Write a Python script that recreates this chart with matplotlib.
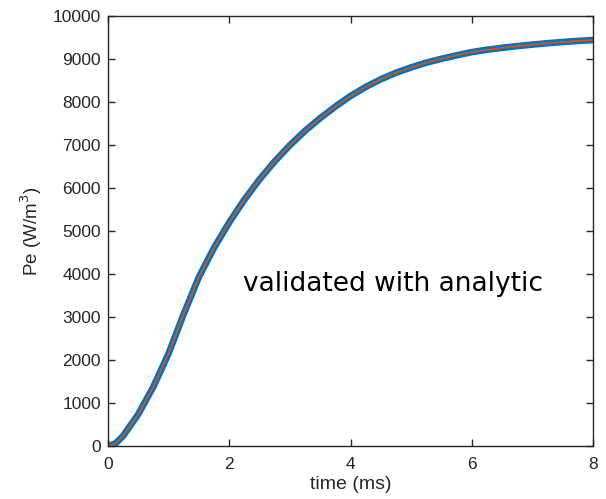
import matplotlib.pyplot as plt
import matplotlib

matplotlib.rcParams['font.family'] = 'Liberation Sans'

# time (ms) and power density (W/m^3)
t_ms = [0.0, 0.125, 0.25, 0.5, 0.75, 1.0, 1.25, 1.5, 1.75, 2.0, 2.25, 2.5, 2.75, 3.0,
        3.25, 3.5, 3.75, 4.0, 4.25, 4.5, 4.75, 5.0, 5.25, 5.5, 5.75, 6.0, 6.25, 6.5,
        6.75, 7.0, 7.25, 7.5, 7.75, 8.0]
pe_numeric = [0, 60, 235, 740, 1380, 2150, 3070, 3930, 4610, 5200, 5730, 6200, 6620,
              6995, 7330, 7625, 7895, 8140, 8350, 8530, 8680, 8805, 8915, 9005, 9085,
              9160, 9215, 9260, 9300, 9335, 9367, 9395, 9420, 9440]
pe_analytic = list(pe_numeric)

xticks = [0, 2, 4, 6, 8]
yticks = list(range(0, 10001, 1000))

fig = plt.figure(figsize=(6.06, 4.99), dpi=100)
ax = fig.add_axes([0.178, 0.106, 0.801, 0.862])

ax.plot(t_ms, pe_numeric, color='#0072BD', lw=4.8, solid_capstyle='round',
        solid_joinstyle='round')
ax.plot(t_ms, pe_analytic, color='#D95319', lw=1.3, solid_joinstyle='round')

ax.set_xlim(0, 8)
ax.set_ylim(0, 10000)
ax.set_xticks(xticks)
ax.set_yticks(yticks)
ax.tick_params(direction='in', length=5, width=1, top=True, right=True,
               labelsize=12.5, colors='#262626')
ax.tick_params(axis='x', pad=8)
ax.tick_params(axis='y', pad=5)
for s in ax.spines.values():
    s.set_color('#262626')
    s.set_linewidth(1.0)

ax.set_xlabel('time (ms)', fontsize=14, color='#262626', labelpad=3)
ax.set_ylabel('Pe (W/m$^3$)', fontsize=13.5, color='#262626', labelpad=6)

ax.text(0.278, 0.377, 'validated with analytic', transform=ax.transAxes,
        family='DejaVu Sans', fontsize=19, color='black', va='center')

fig.savefig('out.png', dpi=100)
